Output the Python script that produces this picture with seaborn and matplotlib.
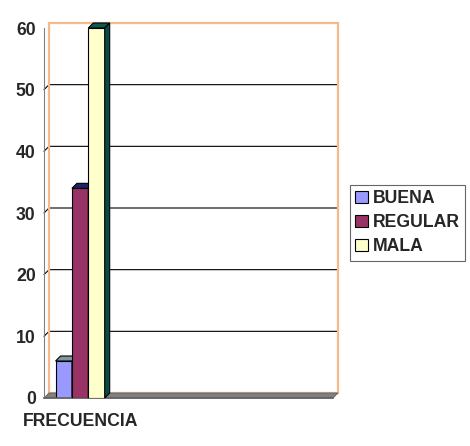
import pandas as pd
import seaborn as sns
import matplotlib.pyplot as plt
from matplotlib.patches import Polygon, Rectangle

# data
categories = ["FRECUENCIA", "c2", "c3", "c4"]
series = ["BUENA", "REGULAR", "MALA"]
values = [6, 34, 60]
tick_labels = ["FRECUENCIA", "", "", ""]

front_colors = ["#9999FF", "#993366", "#FFFFCC"]
top_colors = ["#7f9a9a", "#22226a", "#0b5a52"]
side_colors = ["#5f7a7a", "#22226a", "#0b4a44"]

df = pd.DataFrame({"cat": [categories[0]] * 3, "serie": series, "valor": values})

sns.set_style("white")
plt.rcParams["font.family"] = ["Liberation Sans", "DejaVu Sans"]
plt.rcParams["font.weight"] = "bold"
fs = 12.7

fig = plt.figure(figsize=(4.7, 4.46), dpi=100)
ax = fig.add_axes([44 / 470, 1 - 398 / 446, 289 / 470, 370 / 446])

sns.barplot(data=df, x="cat", y="valor", hue="serie", order=categories,
            hue_order=series, palette=front_colors, width=0.68,
            edgecolor="black", linewidth=0.8, saturation=1, legend=True, ax=ax)

ax.set_xlim(-0.5, 3.5)
ax.set_ylim(0, 60)

# depth of the fake 3D effect, 5 px each way
dx = 5 / (289 / 4)
dy = 5 / (370 / 60)

# back wall, floor and gridlines
wall = Rectangle((-0.5 + dx, dy), 4, 60, fill=False, edgecolor="#f5b98c",
                 linewidth=1.6, clip_on=False, zorder=0.5)
ax.add_patch(wall)
floor = Polygon([(-0.5, 0), (3.5, 0), (3.5 + dx, dy), (-0.5 + dx, dy)],
                closed=True, facecolor="#808080", edgecolor="#606060",
                linewidth=0.6, clip_on=False, zorder=0.6)
ax.add_patch(floor)
for v in range(10, 60, 10):
    ax.plot([-0.5, -0.5 + dx, 3.5 + dx], [v, v + dy, v + dy], color="black",
            linewidth=0.8, clip_on=False, zorder=0.4)

# top and side faces for each bar
bars = [p for p in ax.patches if isinstance(p, Rectangle) and p.get_height() > 0
        and p is not wall]
bars = sorted(bars, key=lambda p: p.get_x())[:3]
for i, p in enumerate(bars):
    x0, w, h = p.get_x(), p.get_width(), p.get_height()
    p.set_zorder(2 + i)
    top = Polygon([(x0, h), (x0 + w, h), (x0 + w + dx, h + dy), (x0 + dx, h + dy)],
                  closed=True, facecolor=top_colors[i], edgecolor="black",
                  linewidth=0.8, clip_on=False, zorder=2 + i)
    side = Polygon([(x0 + w, 0), (x0 + w + dx, dy), (x0 + w + dx, h + dy), (x0 + w, h)],
                   closed=True, facecolor=side_colors[i], edgecolor="black",
                   linewidth=0.8, clip_on=False, zorder=2 + i)
    ax.add_patch(top)
    ax.add_patch(side)

# axes
for s in ["top", "right"]:
    ax.spines[s].set_visible(False)
ax.spines["left"].set_color("#808080")
ax.spines["bottom"].set_color("#606060")
ax.spines["bottom"].set_linewidth(1.2)
ax.set_yticks(range(0, 61, 10))
ax.tick_params(axis="y", direction="out", length=4, width=0.8, color="black",
               labelsize=fs, pad=2)
ax.set_xticks([-0.5, 0.5, 1.5, 2.5, 3.5])
ax.set_xticklabels([])
ax.set_xticks([0, 1, 2, 3], minor=True)
ax.set_xticklabels(tick_labels, minor=True, fontsize=fs, fontweight="bold")
ax.tick_params(axis="x", which="major", direction="out", length=4, width=0.8,
               color="black")
ax.tick_params(axis="x", which="minor", length=0, pad=11)
ax.set_xlabel("")
ax.set_ylabel("")
for lbl in ax.get_yticklabels():
    lbl.set_fontweight("bold")

leg = ax.legend(loc="upper left", bbox_to_anchor=(350 / 470, 1 - 185 / 446),
                bbox_transform=fig.transFigure, frameon=True, fancybox=False,
                edgecolor="#404040", fontsize=fs, handlelength=0.7,
                handleheight=0.7, handletextpad=0.3, labelspacing=0.4,
                borderpad=0.3, borderaxespad=0)
leg.get_frame().set_linewidth(0.8)
for t in leg.get_texts():
    t.set_fontweight("bold")

fig.savefig("out.png", dpi=100)
